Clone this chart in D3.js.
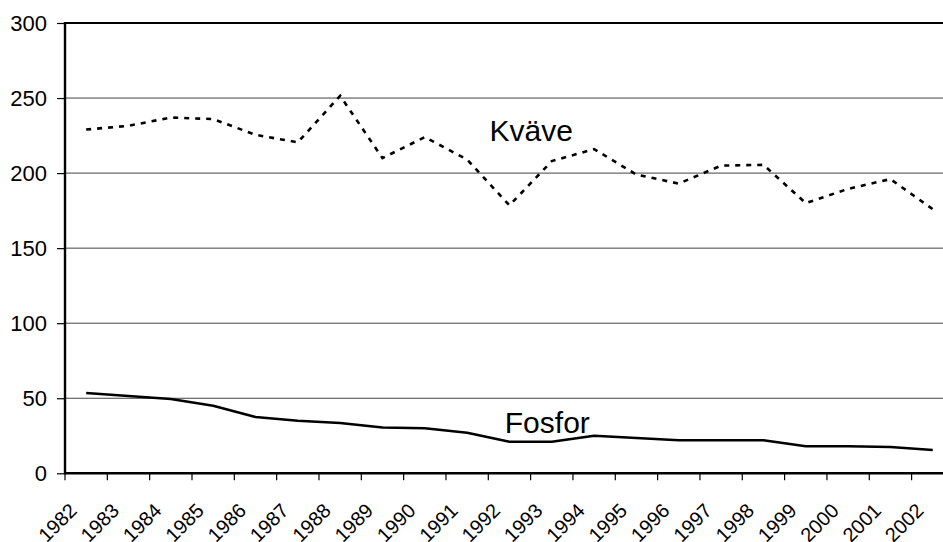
<!DOCTYPE html>
<html>
<head>
<meta charset="utf-8">
<script src="https://d3js.org/d3.v7.min.js"></script>
<style>
  body { margin: 0; background: #fff; }
  svg { display: block; font-family: "Liberation Sans", Arial, sans-serif; }
</style>
</head>
<body>
<svg id="chart" width="943" height="542"></svg>
<script>
// Data
const years = ["1982","1983","1984","1985","1986","1987","1988","1989","1990","1991","1992",
               "1993","1994","1995","1996","1997","1998","1999","2000","2001","2002"];
const kvave = [229, 231.5, 237, 236, 225.5, 220.5, 251.5, 210, 224, 209, 178.5,
               208, 216, 199, 193, 205, 205.5, 180, 189.5, 196, 176];
const fosfor = [53.5, 51.5, 49.5, 45, 37.5, 35, 33.5, 30.5, 30, 27, 21,
                21, 25, 23.5, 22, 22, 22, 18, 18, 17.5, 15.5];
const yTicks = [0, 50, 100, 150, 200, 250, 300];
// series labels: [text, category position, value]
const seriesLabels = [["Kväve", 10.03, 221.5], ["Fosfor", 10.39, 26.7]];

// Dimensions
const W = 943, H = 542;
const plotLeft = 65, plotTop = 23, plotBottom = 473.3;
const step = 42.33;

const svg = d3.select("#chart");

const x = d3.scaleBand()
  .domain(years)
  .range([plotLeft, plotLeft + step * years.length])
  .padding(0);

const y = d3.scaleLinear()
  .domain([0, 300])
  .range([plotBottom, plotTop]);

const cx = d => x(d) + x.bandwidth() / 2;

// Gridlines
svg.append("g")
  .selectAll("line")
  .data(yTicks.filter(v => v > 0 && v < 300))
  .enter().append("line")
  .attr("x1", plotLeft).attr("x2", W)
  .attr("y1", d => y(d)).attr("y2", d => y(d))
  .attr("stroke", "#444")
  .attr("stroke-width", 1);

// Top border of plot area
svg.append("line")
  .attr("x1", plotLeft).attr("x2", W)
  .attr("y1", y(300)).attr("y2", y(300))
  .attr("stroke", "#000").attr("stroke-width", 2.2);

// Y axis
const yAxis = svg.append("g")
  .attr("transform", "translate(" + plotLeft + ",0)")
  .call(d3.axisLeft(y).tickValues(yTicks).tickSize(8).tickPadding(10));
yAxis.select(".domain").remove();
yAxis.selectAll(".tick line").attr("stroke", "#000").attr("stroke-width", 1.2);
yAxis.selectAll(".tick text")
  .attr("font-size", "22px")
  .attr("font-family", "Liberation Sans, Arial, sans-serif")
  .attr("fill", "#000");

svg.append("line")
  .attr("x1", plotLeft).attr("x2", plotLeft)
  .attr("y1", y(300) - 1).attr("y2", plotBottom + 1)
  .attr("stroke", "#000").attr("stroke-width", 2.4);

// X axis: tick marks at category boundaries
svg.append("g")
  .selectAll("line")
  .data(years)
  .enter().append("line")
  .attr("x1", d => x(d)).attr("x2", d => x(d))
  .attr("y1", plotBottom).attr("y2", plotBottom + 7)
  .attr("stroke", "#000").attr("stroke-width", 1.2);

svg.append("line")
  .attr("x1", plotLeft).attr("x2", W)
  .attr("y1", plotBottom).attr("y2", plotBottom)
  .attr("stroke", "#000").attr("stroke-width", 2.4);

// X labels, rotated (cut off by the bottom edge, as in the original)
svg.append("g")
  .selectAll("text")
  .data(years)
  .enter().append("text")
  .attr("transform", d => "translate(" + (cx(d) - 8) + "," + (plotBottom + 38.5) + ") rotate(-45)")
  .attr("text-anchor", "end")
  .attr("font-size", "20px")
  .attr("fill", "#000")
  .text(d => d);

// Lines
const line = d3.line()
  .x((d, i) => cx(years[i]))
  .y(d => y(d));

svg.append("path")
  .datum(kvave)
  .attr("d", line)
  .attr("fill", "none")
  .attr("stroke", "#000")
  .attr("stroke-width", 2.6)
  .attr("stroke-dasharray", "5,6");

svg.append("path")
  .datum(fosfor)
  .attr("d", line)
  .attr("fill", "none")
  .attr("stroke", "#000")
  .attr("stroke-width", 2.6)
  .attr("stroke-linejoin", "round");

// Series labels
svg.append("g")
  .selectAll("text")
  .data(seriesLabels)
  .enter().append("text")
  .attr("x", d => plotLeft + step * d[1])
  .attr("y", d => y(d[2]))
  .attr("font-size", "30px")
  .attr("fill", "#000")
  .text(d => d[0]);
</script>
</body>
</html>
